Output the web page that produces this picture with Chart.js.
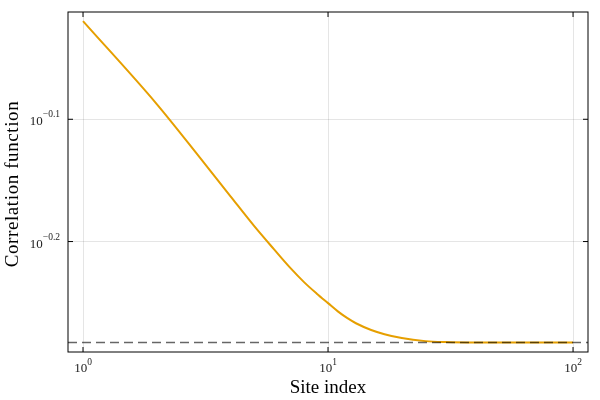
<!DOCTYPE html>
<html>
<head>
<meta charset="utf-8">
<script src="https://cdn.jsdelivr.net/npm/chart.js@4/dist/chart.umd.min.js"></script>
<style>
  html, body { margin: 0; padding: 0; background: #fff; }
  #wrap { width: 600px; height: 400px; }
</style>
</head>
<body>
<div id="wrap"><canvas id="myChart"></canvas></div>
<script>
// values
const sites = [1, 2, 3, 4, 5, 6, 7, 8, 9, 10, 11, 12, 13, 15, 17, 20, 25, 30, 40, 50, 70, 100];
const correlation = [0.9556, 0.8174, 0.739, 0.687, 0.6495, 0.6223, 0.6007, 0.5843, 0.5720, 0.5619,
  0.5530, 0.5462, 0.5410, 0.5342, 0.5300, 0.5261, 0.5231, 0.5222, 0.5218, 0.5218, 0.5218, 0.5218];
const limitValue = 0.5218;
const xTickExps = [0, 1, 2];
const yTickExps = [-0.2, -0.1];
const xLabel = 'Site index';
const yLabel = 'Correlation function';

const xMin = 0.8685, xMax = 115.1;
const yMin = 0.5125, yMax = 0.9721;

const serif = '"Liberation Serif", "DejaVu Serif", serif';

// frame, inner tick marks and 10^x labels like the GR backend does
const framePlugin = {
  id: 'frame',
  afterDraw(chart) {
    const ctx = chart.ctx;
    const a = chart.chartArea;
    const xs = chart.scales.x, ys = chart.scales.y;
    ctx.save();
    ctx.strokeStyle = '#000';
    ctx.lineWidth = 1;
    ctx.strokeRect(a.left, a.top, a.right - a.left, a.bottom - a.top);

    ctx.beginPath();
    xTickExps.forEach(e => {
      const px = xs.getPixelForValue(Math.pow(10, e));
      ctx.moveTo(px, a.bottom); ctx.lineTo(px, a.bottom - 5);
      ctx.moveTo(px, a.top); ctx.lineTo(px, a.top + 5);
    });
    yTickExps.forEach(e => {
      const py = ys.getPixelForValue(Math.pow(10, e));
      ctx.moveTo(a.left, py); ctx.lineTo(a.left + 5, py);
      ctx.moveTo(a.right, py); ctx.lineTo(a.right - 5, py);
    });
    ctx.stroke();

    ctx.fillStyle = '#222';
    ctx.textBaseline = 'alphabetic';
    ctx.textAlign = 'left';
    const baseFont = '13px ' + serif;
    const expFont = '9.5px ' + serif;

    xTickExps.forEach(e => {
      const px = xs.getPixelForValue(Math.pow(10, e));
      ctx.font = baseFont;
      const bw = ctx.measureText('10').width;
      ctx.font = expFont;
      const es = String(e);
      const ew = ctx.measureText(es).width;
      const x0 = px - (bw + ew) / 2;
      ctx.font = baseFont;
      ctx.fillText('10', x0, a.bottom + 20);
      ctx.font = expFont;
      ctx.fillText(es, x0 + bw, a.bottom + 13);
    });

    yTickExps.forEach(e => {
      const py = ys.getPixelForValue(Math.pow(10, e));
      const es = '\u2212' + Math.abs(e).toFixed(1);
      ctx.font = expFont;
      const ew = ctx.measureText(es).width;
      ctx.font = baseFont;
      const bw = ctx.measureText('10').width;
      const xr = a.left - 8;
      ctx.fillText('10', xr - ew - bw, py + 6);
      ctx.font = expFont;
      ctx.fillText(es, xr - ew, py - 2);
    });

    ctx.font = '19px ' + serif;
    ctx.fillStyle = '#000';
    ctx.textAlign = 'center';
    ctx.fillText(xLabel, (a.left + a.right) / 2, a.bottom + 41);

    ctx.translate(18, (a.top + a.bottom) / 2 + 2);
    ctx.rotate(-Math.PI / 2);
    ctx.letterSpacing = '0.6px';
    ctx.fillText(yLabel, 0, 0);
    ctx.restore();
  }
};

new Chart(document.getElementById('myChart'), {
  type: 'line',
  data: {
    datasets: [
      {
        label: 'correlation',
        data: sites.map((s, i) => ({ x: s, y: correlation[i] })),
        borderColor: '#E69F00',
        borderWidth: 2,
        pointRadius: 0,
        cubicInterpolationMode: 'monotone',
        order: 2
      },
      {
        label: 'limit',
        data: [{ x: xMin, y: limitValue }, { x: xMax, y: limitValue }],
        borderColor: 'rgba(0,0,0,0.6)',
        borderWidth: 1.5,
        borderDash: [9, 5],
        pointRadius: 0,
        order: 1
      }
    ]
  },
  options: {
    responsive: true,
    maintainAspectRatio: false,
    animation: false,
    layout: { padding: { left: 68, right: 12, top: 12, bottom: 48 } },
    plugins: { legend: { display: false }, tooltip: { enabled: false } },
    scales: {
      x: {
        type: 'logarithmic',
        min: xMin,
        max: xMax,
        afterBuildTicks: s => {
          s.ticks = xTickExps.map(e => ({ value: Math.pow(10, e) }));
          s.min = xMin; s.max = xMax;
        },
        ticks: { display: false },
        grid: { color: 'rgba(0,0,0,0.1)', lineWidth: 1, drawTicks: false },
        border: { display: false },
        title: { display: false }
      },
      y: {
        type: 'logarithmic',
        min: yMin,
        max: yMax,
        afterBuildTicks: s => {
          s.ticks = yTickExps.map(e => ({ value: Math.pow(10, e) }));
          s.min = yMin; s.max = yMax;
        },
        ticks: { display: false },
        grid: { color: 'rgba(0,0,0,0.1)', lineWidth: 1, drawTicks: false },
        border: { display: false },
        title: { display: false }
      }
    }
  },
  plugins: [framePlugin]
});
</script>
</body>
</html>
